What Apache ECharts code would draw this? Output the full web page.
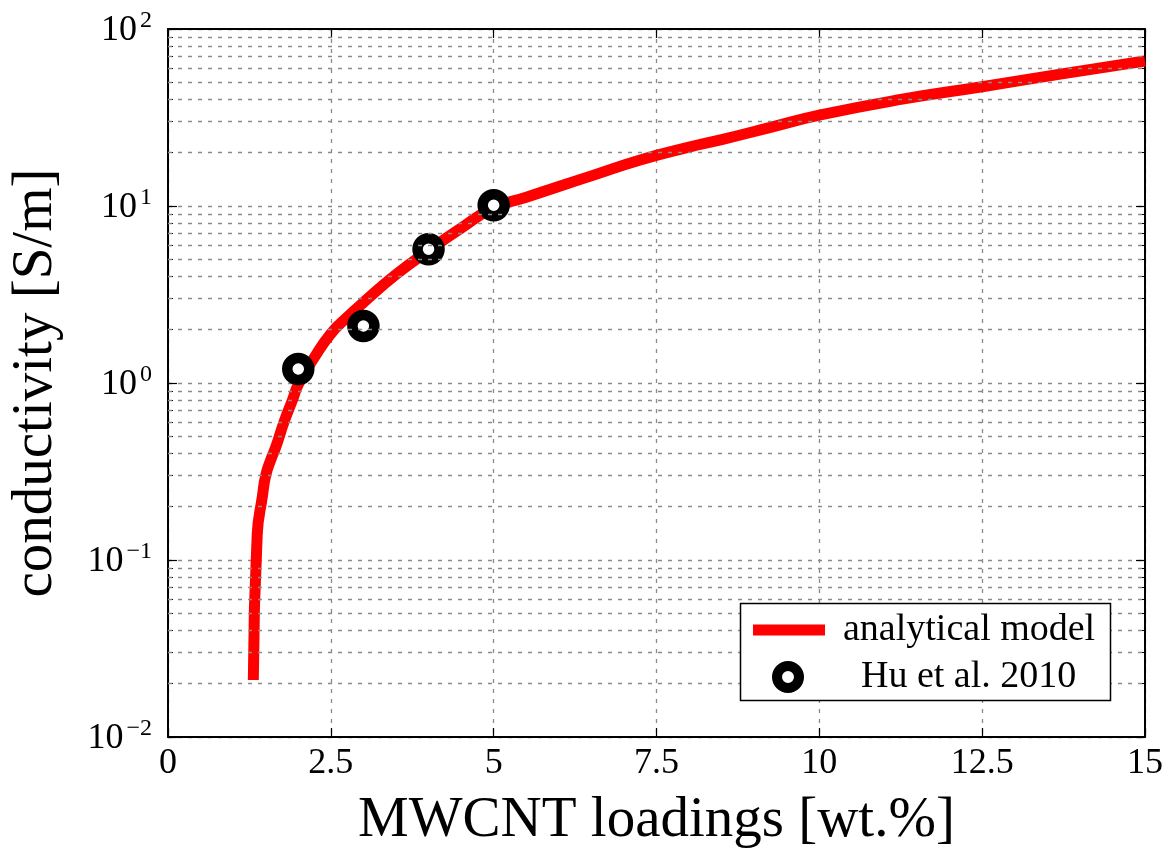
<!DOCTYPE html>
<html>
<head>
<meta charset="utf-8">
<script src="https://cdn.jsdelivr.net/npm/echarts@6/dist/echarts.min.js"></script>
<style>
html,body{margin:0;padding:0;background:#fff;}
#c{width:1176px;height:866px;}
</style>
</head>
<body>
<div id="c"></div>
<script>
// ---- data ----
const yDecades = [0.01, 0.1, 1, 10, 100];
const modelX = [1.31, 1.37, 1.45, 1.50, 1.58, 1.66, 1.78, 1.91, 2.00, 2.25, 2.50, 2.75, 3.00, 3.50, 4.00, 4.50, 5.00, 5.50, 6.00, 6.50, 7.25, 8.00, 8.50, 9.25, 10.0, 11.25, 12.5, 13.75, 15.0];
const modelY = [0.021, 0.14, 0.23, 0.30, 0.37, 0.44, 0.60, 0.80, 0.98, 1.40, 1.90, 2.35, 2.85, 4.1, 5.6, 7.5, 9.8, 11.2, 12.9, 14.8, 18.2, 21.5, 23.7, 27.8, 32.6, 40, 47.2, 56, 66];
const expX = [2, 3, 4, 5];
const expY = [1.2, 2.1, 5.7, 10.1];
const seriesNames = ['analytical model', 'Hu et al. 2010'];
const xName = 'MWCNT loadings [wt.%]';
const yName = 'conductivity [S/m]';

const FONT = 'Liberation Serif';
const chart = echarts.init(document.getElementById('c'), null, {renderer: 'canvas'});

const minorVals = [];
for (let i = 0; i < yDecades.length - 1; i++) {
  for (let k = 2; k <= 9; k++) minorVals.push(+(yDecades[i] * k).toPrecision(3));
}

function yLabel(v) {
  const e = Math.round(Math.log10(v));
  const s = e < 0 ? '\u2212' + (-e) : String(e);
  return '{b|10}{s|' + s + '}';
}

const gridLine = {color: '#8a8a8a', type: [4, 6], width: 1.3};
const frameTick = {show: true, inside: true, length: 9, lineStyle: {color: '#000', width: 1.2}};
const frameLine = {show: true, onZero: false, lineStyle: {color: '#000', width: 2}};

const option = {
  backgroundColor: '#fff',
  animation: false,
  grid: {left: 167, right: 31, top: 29, bottom: 129, containLabel: false},
  xAxis: [{
    type: 'value', min: 0, max: 15, interval: 2.5,
    name: xName, nameLocation: 'middle', nameGap: 56,
    nameTextStyle: {fontFamily: FONT, fontSize: 57, color: '#000'},
    axisLine: frameLine, axisTick: frameTick,
    axisLabel: {fontFamily: FONT, fontSize: 36, color: '#000', margin: 9,
      formatter: v => String(v)},
    splitLine: {show: true, lineStyle: gridLine}
  }, {
    type: 'value', min: 0, max: 15, interval: 2.5, position: 'top',
    axisLine: frameLine, axisTick: frameTick,
    axisLabel: {show: false}, splitLine: {show: false}
  }],
  yAxis: [{
    type: 'log', logBase: 10, min: 0.01, max: 100,
    name: yName, nameLocation: 'middle', nameGap: 103,
    nameTextStyle: {fontFamily: FONT, fontSize: 57, color: '#000'},
    axisLine: frameLine, axisTick: frameTick,
    minorTick: {show: true, splitNumber: 9, length: 5, lineStyle: {color: '#000', width: 1}},
    axisLabel: {margin: 16, formatter: yLabel,
      rich: {
        b: {fontFamily: FONT, fontSize: 36, color: '#000', lineHeight: 40, verticalAlign: 'bottom'},
        s: {fontFamily: FONT, fontSize: 24, color: '#000', lineHeight: 40, verticalAlign: 'top', padding: [0, 0, 16, 3]}
      }},
    splitLine: {show: true, lineStyle: gridLine}
  }, {
    type: 'log', logBase: 10, min: 0.01, max: 100, position: 'right',
    axisLine: frameLine, axisTick: frameTick,
    minorTick: {show: true, splitNumber: 9, length: 5, lineStyle: {color: '#000', width: 1}},
    axisLabel: {show: false}, splitLine: {show: false}
  }],
  graphic: [{
    type: 'rect', z: 100, silent: true,
    shape: {x: 740.5, y: 603.5, width: 370, height: 97},
    style: {fill: '#fff', stroke: '#000', lineWidth: 1.5}
  }],
  legend: [{
    z: 110, orient: 'vertical', left: 753, top: 611, padding: 0,
    itemWidth: 72, itemHeight: 11,
    data: [{name: seriesNames[0], icon: 'rect', itemStyle: {color: '#ff0000', borderWidth: 0}}],
    textStyle: {fontFamily: FONT, fontSize: 38, color: '#000', padding: [0, 0, 0, 13]}
  }, {
    z: 110, orient: 'vertical', left: 772, top: 658, padding: 0,
    itemWidth: 72, itemHeight: 22,
    data: [{name: seriesNames[1], icon: 'circle'}],
    itemStyle: {color: '#fff', borderColor: '#000', borderWidth: 10},
    formatter: n => '{h|' + n + '}',
    textStyle: {fontFamily: FONT, fontSize: 38, color: '#000', padding: [0, 0, 0, 13],
      rich: {h: {fontFamily: FONT, fontSize: 38, color: '#000', padding: [0, 0, 0, 19]}}}
  }],
  series: [{
    name: seriesNames[0], type: 'line', xAxisIndex: 0, yAxisIndex: 0,
    data: modelX.map((x, i) => [x, modelY[i]]),
    showSymbol: false, symbol: 'none', smooth: 0.5,
    lineStyle: {color: '#ff0000', width: 11, cap: 'butt', join: 'round'},
    itemStyle: {color: '#ff0000'},
    z: 3,
    markLine: {
      silent: true, symbol: 'none', animation: false,
      label: {show: false},
      lineStyle: gridLine,
      data: minorVals.map(v => ({yAxis: v}))
    }
  }, {
    name: seriesNames[1], type: 'scatter', xAxisIndex: 0, yAxisIndex: 0,
    data: expX.map((x, i) => [x, expY[i]]),
    symbol: 'circle', symbolSize: 22,
    itemStyle: {color: '#fff', borderColor: '#000', borderWidth: 10.5, opacity: 1},
    z: 4
  }]
};
chart.setOption(option);
</script>
</body>
</html>
